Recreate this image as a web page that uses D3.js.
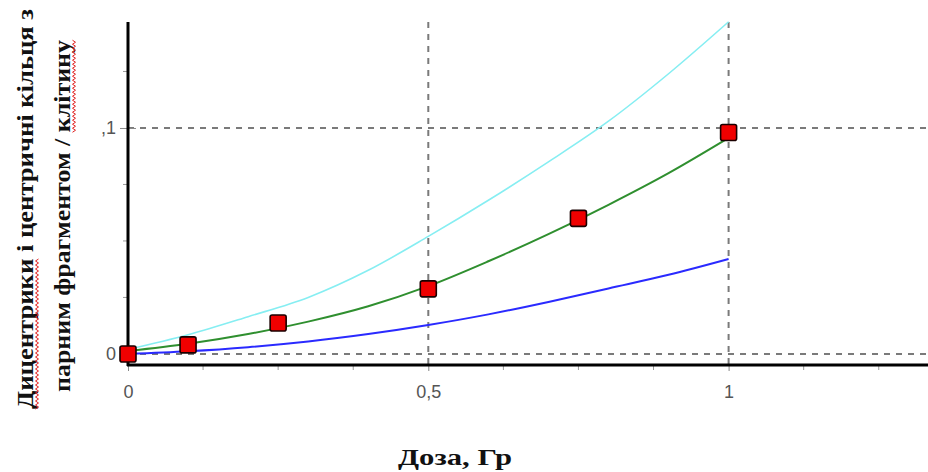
<!DOCTYPE html>
<html>
<head>
<meta charset="utf-8">
<script src="https://cdn.jsdelivr.net/npm/d3@7"></script>
<style>
  body { margin: 0; background: #fff; }
  .tick-lbl { font-family: "Liberation Sans", Arial, sans-serif; font-size: 18px; fill: #555; }
  .ttl { font-family: "Liberation Serif", "Times New Roman", serif; font-weight: bold; font-size: 24px; fill: #111; }
</style>
</head>
<body>
<div id="chart"></div>
<script>
// measured points (dose, yield)
let doses = [0, 0.1, 0.25, 0.5, 0.75, 1.0];
let yields = [0.0, 0.004, 0.0137, 0.0288, 0.060, 0.098];

// fitted curve and confidence bounds
let curveDoses = [0, 0.1, 0.2, 0.3, 0.4, 0.5, 0.6, 0.7, 0.8, 0.9, 1.0];
let fitVals   = [0.0013, 0.0045, 0.0088, 0.0143, 0.0211, 0.030, 0.041, 0.053, 0.066, 0.080, 0.0956];
let upperVals = [0.002, 0.0085, 0.0165, 0.025, 0.037, 0.052, 0.068, 0.085, 0.103, 0.124, 0.147];
let lowerVals = [0.0, 0.0012, 0.003, 0.0055, 0.0088, 0.0128, 0.0175, 0.023, 0.029, 0.035, 0.042];

let xTicks = [0, 0.5, 1], xTickLabels = ['0', '0,5', '1'];
let yTicks = [0, 0.1], yTickLabels = ['0', ',1'];
let xMinor = [0.125, 0.25, 0.375, 0.625, 0.75, 0.875, 1.125, 1.25];
let yMinor = [0.025, 0.05, 0.075, 0.125];

let xTitle = 'Доза, Гр';
let yTitle1 = ['Дицентрики', ' і центричні кільця  з'];
let yTitle2 = ['парним фрагментом / ', 'клітину'];

let width = 928, height = 472;
let svg = d3.select('#chart').append('svg')
    .attr('width', width)
    .attr('height', height);

let x = d3.scaleLinear().domain([0, 1.332]).range([128, 928]);
let y = d3.scaleLinear().domain([-0.0049, 0.1469]).range([365, 22]);

let gridColor = '#7a7a7a';

// grid
svg.append('g').selectAll('line')
    .data(yTicks).enter().append('line')
    .attr('x1', x(0)).attr('x2', width)
    .attr('y1', d => y(d)).attr('y2', d => y(d))
    .attr('stroke', gridColor).attr('stroke-width', 2)
    .attr('stroke-dasharray', '6,6');
svg.append('g').selectAll('line')
    .data(xTicks.filter(d => d > 0)).enter().append('line')
    .attr('x1', d => x(d)).attr('x2', d => x(d))
    .attr('y1', y.range()[1]).attr('y2', y.range()[0])
    .attr('stroke', gridColor).attr('stroke-width', 2)
    .attr('stroke-dasharray', '6,6');

// minor ticks
svg.append('g').selectAll('line')
    .data(xMinor).enter().append('line')
    .attr('x1', d => x(d)).attr('x2', d => x(d))
    .attr('y1', y.range()[0]).attr('y2', y.range()[0] + 5)
    .attr('stroke', '#999').attr('stroke-width', 1);
svg.append('g').selectAll('line')
    .data(yMinor).enter().append('line')
    .attr('x1', x(0) - 5).attr('x2', x(0))
    .attr('y1', d => y(d)).attr('y2', d => y(d))
    .attr('stroke', '#999').attr('stroke-width', 1);

// major ticks + labels
let xAxis = d3.axisBottom(x).tickValues(xTicks)
    .tickFormat((d, i) => xTickLabels[i]).tickSize(6).tickPadding(14);
let gx = svg.append('g').attr('transform', 'translate(0,' + y.range()[0] + ')').call(xAxis);
gx.select('.domain').remove();
gx.selectAll('line').attr('stroke', '#888');
gx.selectAll('text').attr('class', 'tick-lbl').attr('fill', null).attr('font-size', null).attr('font-family', null);

let yAxis = d3.axisLeft(y).tickValues(yTicks)
    .tickFormat((d, i) => yTickLabels[i]).tickSize(6).tickPadding(6);
let gy = svg.append('g').attr('transform', 'translate(' + x(0) + ',0)').call(yAxis);
gy.select('.domain').remove();
gy.selectAll('line').attr('stroke', '#888').attr('x2', 8).attr('x1', -8);
gy.selectAll('text').attr('class', 'tick-lbl').attr('fill', null).attr('font-size', null).attr('font-family', null);

// curves
let line = d3.line()
    .x(d => x(d[0]))
    .y(d => y(d[1]))
    .curve(d3.curveMonotoneX);

function drawCurve(vals, color, w) {
    svg.append('path')
        .datum(curveDoses.map((d, i) => [d, vals[i]]))
        .attr('d', line)
        .attr('fill', 'none')
        .attr('stroke', color)
        .attr('stroke-width', w);
}
drawCurve(upperVals, '#86eef2', 1.6);
drawCurve(lowerVals, '#2a2aff', 2);
drawCurve(fitVals, '#2f8f2f', 2);

// y axis line
svg.append('line')
    .attr('x1', x(0)).attr('x2', x(0))
    .attr('y1', y.range()[1]).attr('y2', y.range()[0] + 1)
    .attr('stroke', '#000').attr('stroke-width', 3);

// points
let sq = 16;
svg.append('g').selectAll('rect')
    .data(doses.map((d, i) => [d, yields[i]]))
    .enter().append('rect')
    .attr('x', d => x(d[0]) - sq / 2)
    .attr('y', d => y(d[1]) - sq / 2)
    .attr('width', sq).attr('height', sq)
    .attr('rx', 2)
    .attr('fill', '#f00000')
    .attr('stroke', '#1a0000')
    .attr('stroke-width', 1.6);

// x axis line
svg.append('line')
    .attr('x1', x(0) - 1).attr('x2', width)
    .attr('y1', y.range()[0]).attr('y2', y.range()[0])
    .attr('stroke', '#000').attr('stroke-width', 3);

// titles
svg.append('text')
    .attr('class', 'ttl')
    .attr('x', 455).attr('y', 465)
    .attr('text-anchor', 'middle')
    .attr('textLength', 114)
    .attr('lengthAdjust', 'spacingAndGlyphs')
    .text(xTitle);

let yg = svg.append('g').attr('transform', 'translate(33,209) rotate(-90)');

// wavy spell-check underline under chars [from, to) of a text line
function wavy(textEl, from, to, baseY) {
    let node = textEl.node();
    let x0 = node.getStartPositionOfChar(from).x;
    let x1 = node.getEndPositionOfChar(to - 1).x;
    let pts = [];
    let k = 0;
    for (let px = x0; px <= x1; px += 2, k++) {
        pts.push([px, baseY + 4 + (k % 2 ? 1.5 : -1.5)]);
    }
    yg.append('path')
        .attr('d', d3.line()(pts))
        .attr('fill', 'none')
        .attr('stroke', '#e02020')
        .attr('stroke-width', 1);
}

let t1 = yg.append('text').attr('class', 'ttl')
    .attr('x', 0).attr('y', 0)
    .attr('text-anchor', 'middle')
    .attr('textLength', 400)
    .attr('lengthAdjust', 'spacingAndGlyphs')
    .text(yTitle1.join(''));
let t2 = yg.append('text').attr('class', 'ttl')
    .attr('x', -7).attr('y', 37)
    .attr('text-anchor', 'middle')
    .attr('textLength', 352)
    .attr('lengthAdjust', 'spacingAndGlyphs')
    .text(yTitle2.join(''));

wavy(t1, 0, yTitle1[0].length, 0);
wavy(t2, yTitle2[0].length, yTitle2[0].length + yTitle2[1].length, 37);
</script>
</body>
</html>
